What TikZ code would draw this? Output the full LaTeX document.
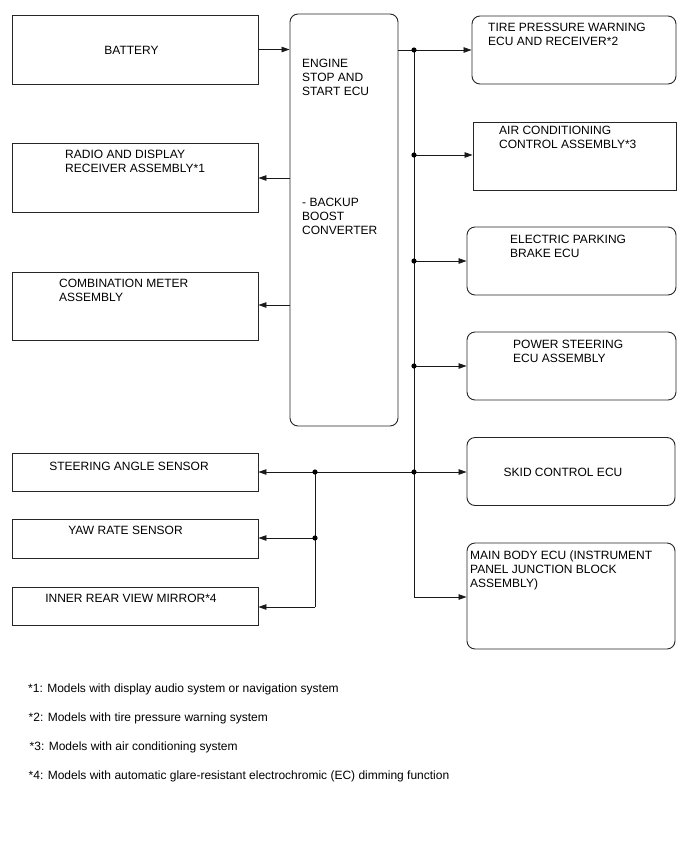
\documentclass[tikz,border=0pt]{standalone}
\usepackage{fontspec}
\setmainfont{Liberation Sans}
\usetikzlibrary{arrows.meta}
\begin{document}
\begin{tikzpicture}[x=1pt,y=-1pt,
  box/.style={draw=black!85, line width=0.9pt, inner sep=0pt},
  rbox/.style={box, rounded corners=8pt},
  txt/.style={anchor=north west, inner sep=0pt, align=left, font=\fontsize{12}{14}\selectfont},
  ctxt/.style={anchor=center, inner sep=0pt, font=\fontsize{12}{14}\selectfont},
  note/.style={anchor=base west, inner sep=0pt, font=\fontsize{12}{14}\selectfont},
  wire/.style={line width=0.8pt, draw=black!90},
  arr/.style={wire, -{Triangle[length=8pt,width=5.5pt]}},
  dot/.style={fill=black}]
\useasboundingbox (0,0) rectangle (688,852);

% boxes
\node[box, minimum width=246pt, minimum height=69pt] (battery) at (135,49.5) {};
\node[rbox, minimum width=108pt, minimum height=412pt] (ecu) at (344,220) {};
\node[rbox, minimum width=204pt, minimum height=68pt] (tire) at (574,50) {};
\node[box, minimum width=203pt, minimum height=68pt] (ac) at (574.5,156) {};
\node[rbox, minimum width=209pt, minimum height=68pt] (epb) at (571.5,261) {};
\node[rbox, minimum width=209pt, minimum height=68pt] (ps) at (571.5,366) {};
\node[rbox, minimum width=208pt, minimum height=68pt] (skid) at (571,471.5) {};
\node[rbox, minimum width=208pt, minimum height=106pt] (mainb) at (571,596) {};
\node[box, minimum width=246pt, minimum height=69pt] (radio) at (135,177.5) {};
\node[box, minimum width=246pt, minimum height=68pt] (comb) at (135,306) {};
\node[box, minimum width=246pt, minimum height=38pt] (steer) at (135,472) {};
\node[box, minimum width=246pt, minimum height=39pt] (yaw) at (135,538.5) {};
\node[box, minimum width=246pt, minimum height=38pt] (mirror) at (135,606.5) {};

% texts
\node[ctxt] (tbattery) at (131.5,50) {BATTERY};
\node[txt] (tecu1) at (302,58.5) {ENGINE\\STOP AND\\START ECU};
\node[txt] (tecu2) at (302,197.5) {- BACKUP\\BOOST\\CONVERTER};
\node[txt] (ttire) at (488,22.5) {TIRE PRESSURE WARNING\\ECU AND RECEIVER*2};
\node[txt] (tac) at (499,125.5) {AIR CONDITIONING\\CONTROL ASSEMBLY*3};
\node[txt] (tepb) at (510,234.5) {ELECTRIC PARKING\\BRAKE ECU};
\node[txt] (tps) at (513,339.5) {POWER STEERING\\ECU ASSEMBLY};
\node[ctxt] (tskid) at (563,472) {SKID CONTROL ECU};
\node[txt] (tmain) at (470,550.5) {MAIN BODY ECU (INSTRUMENT\\PANEL JUNCTION BLOCK\\ASSEMBLY)};
\node[txt] (tradio) at (65,149.5) {RADIO AND DISPLAY\\RECEIVER ASSEMBLY*1};
\node[txt] (tcomb) at (59,278.5) {COMBINATION METER\\ASSEMBLY};
\node[ctxt] (tsteer) at (129,466) {STEERING ANGLE SENSOR};
\node[ctxt] (tyaw) at (125.5,530) {YAW RATE SENSOR};
\node[ctxt] (tmirror) at (131,598) {INNER REAR VIEW MIRROR*4};

% footnotes
\node[note] (n1) at (28,692) {*1: Models with display audio system or navigation system};
\node[note] (n2) at (28.5,721) {*2: Models with tire pressure warning system};
\node[note] (n3) at (29.5,750) {*3: Models with air conditioning system};
\node[note] (n4) at (28.5,779) {*4: Models with automatic glare-resistant electrochromic (EC) dimming function};

% junctions
\coordinate (j1) at (414,50);
\coordinate (jac) at (414,155);
\coordinate (jepb) at (414,261);
\coordinate (jps) at (414,366);
\coordinate (jskid) at (414,472);
\coordinate (jmain) at (414,597);
\coordinate (jl) at (315,472);
\coordinate (jyaw) at (315,538);
\coordinate (jmir) at (315,607);

% connectors
\draw[arr] (battery.east) -- (battery.east -| ecu.west);
\draw[arr] (ecu.east |- j1) -- (j1 -| tire.west);
\draw[wire] (j1) -- (jmain);
\draw[arr] (jmain) -- (jmain -| mainb.west);
\draw[arr] (jac) -- (jac -| ac.west);
\draw[arr] (jepb) -- (jepb -| epb.west);
\draw[arr] (jps) -- (jps -| ps.west);
\draw[arr] (jskid) -- (jskid -| skid.west);
\draw[arr] (jskid) -- (jskid -| steer.east);
\draw[arr] (ecu.west |- 0,178) -- (radio.east |- 0,178);
\draw[arr] (ecu.west |- 0,305) -- (comb.east |- 0,305);
\draw[wire] (jl) -- (jmir);
\draw[arr] (jyaw) -- (jyaw -| yaw.east);
\draw[arr] (jmir) -- (jmir -| mirror.east);

% dots
\foreach \p in {j1,jac,jepb,jps,jskid,jl,jyaw} \fill[dot] (\p) circle (2.6pt);
\end{tikzpicture}
\end{document}
